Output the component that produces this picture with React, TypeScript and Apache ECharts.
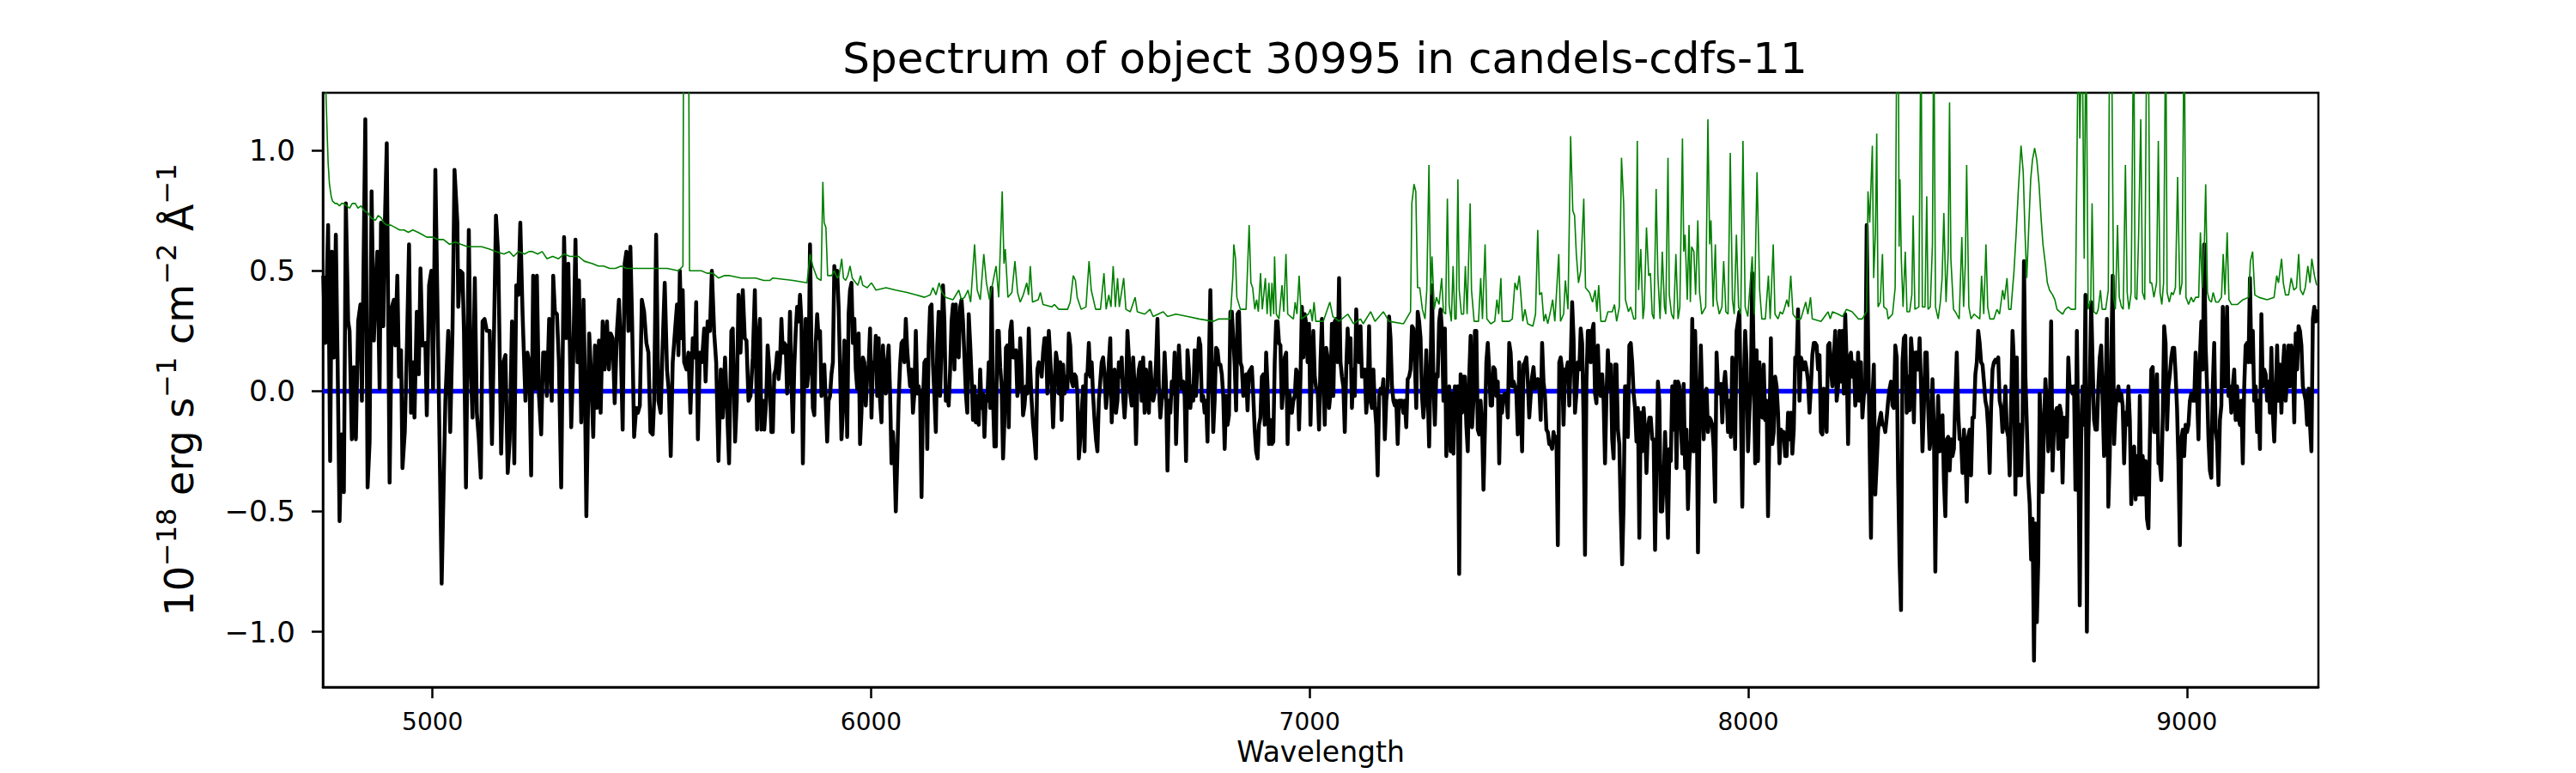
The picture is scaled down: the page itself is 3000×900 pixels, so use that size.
import React, { useEffect, useRef } from 'react';
import * as echarts from 'echarts';

const FONT = "'DejaVu Sans', 'Liberation Sans', sans-serif";
const titleText = 'Spectrum of object 30995 in candels-cdfs-11';
const xName = 'Wavelength';
const yName = '10{sup|\u221218} erg s{sup|\u22121} cm{sup|\u22122} \u00c5{sup|\u22121}';
const xTicks = [5000, 6000, 7000, 8000, 9000];
const yTicks = [-1, -0.5, 0, 0.5, 1];
const xRange = [4750, 9300];
const yRange = [-1.23, 1.24];

// flux, blue end of the spectrum: [wavelength, flux]
const fluxEarly: number[][] = [
  [4750.9,0.48],[4755.5,0.20],[4762.0,0.69],[4766.6,-0.29],[4770.5,0.58],[4775.1,0.14],[4779.6,0.65],[4783.5,0.14],
  [4788.1,-0.54],[4792.7,-0.18],[4797.9,-0.42],[4802.4,0.78],[4807.7,0.29],[4810.9,0.25],[4816.1,-0.20],[4820.7,0.10],
  [4825.3,-0.20],[4830.5,0.29],[4835.7,0.36],[4839.0,-0.04],[4846.8,1.13],[4852.0,-0.40],[4856.6,-0.21],[4861.1,0.83],
  [4866.3,0.21],[4869.6,0.38],[4874.2,0.58],[4879.4,0.01],[4882.6,0.70],[4887.9,0.27],[4890.5,0.63],[4895.7,1.03],
  [4902.2,-0.38],[4907.4,0.35],[4912.0,0.38],[4915.2,0.19],[4919.8,0.48],[4923.7,0.06],[4928.3,0.17],[4931.5,-0.32],
  [4936.8,-0.17],[4941.3,0.16],[4946.5,0.61],[4951.1,-0.09],[4955.7,0.12],[4958.9,-0.11],[4964.1,0.33],[4968.7,0.07],
  [4972.6,0.51],[4977.2,0.19],[4983.7,0.20],[4987.0,-0.10],[4992.2,0.44],[4997.4,0.50],[5001.3,0.01],[5006.5,0.92],
  [5013.0,0.16],[5020.9,-0.80],[5029.3,-0.04],[5035.9,0.25],[5040.4,-0.17],[5045.6,0.25],[5050.2,0.92],[5056.7,0.70],
  [5058.7,0.35],[5063.2,0.50],[5068.5,0.49],[5071.7,0.25],[5076.3,-0.40],[5082.8,0.67],[5086.7,0.12],[5091.3,-0.11],
  [5096.5,0.47],[5101.1,-0.09],[5105.6,-0.20],[5110.2,-0.36],[5114.1,0.29],[5118.7,0.30],[5123.9,0.25],[5130.4,0.25],
  [5135.6,-0.22],[5140.2,0.24],[5144.7,0.73],[5150.0,0.56],[5156.5,-0.26],[5161.7,0.12],[5166.3,0.15],[5171.5,-0.34],
  [5176.0,-0.20],[5181.3,0.29],[5186.5,-0.30],[5191.0,0.44],[5195.6,0.40],[5200.2,0.70],[5205.4,0.32],[5211.9,-0.04],
  [5216.5,0.16],[5220.4,0.12],[5224.9,-0.35],[5229.5,0.48],[5233.4,0.01],[5238.0,0.48],[5242.5,-0.01],[5247.8,-0.18],
  [5252.3,0.16],[5257.5,0.16],[5260.8,-0.02],[5266.0,0.30],
  [5271.9,-0.04],[5275.2,0.48],[5279.1,0.33],[5283.7,0.32],[5288.2,0.12],[5293.4,-0.40],[5300.0,0.64],[5305.2,0.22],
  [5309.7,0.53],[5313.0,0.20],[5316.3,-0.15],[5320.8,0.13],[5326.0,0.63],[5330.6,0.12],[5333.9,0.46],[5339.1,-0.13],
  [5344.3,0.38],[5346.9,0.12],[5350.8,-0.52],[5357.3,0.24],[5361.9,0.06],[5366.5,-0.19],[5370.4,0.19],[5374.9,-0.07],
  [5379.5,0.21],[5383.4,-0.09],[5388.0,0.29],[5392.5,0.09],[5397.8,0.29],[5402.3,0.09],[5406.2,0.24],[5410.8,0.22],
  [5415.4,-0.05],[5420.6,0.25],[5425.1,0.38],[5429.1,0.20],[5433.6,-0.16],[5438.2,0.53],[5442.1,0.58],[5446.7,0.25],
  [5451.2,0.60],[5455.1,0.29],[5459.7,-0.19],[5464.3,-0.07],[5468.2,-0.09],[5472.7,-0.06],[5477.3,0.38],[5482.5,0.33],
  [5487.7,0.20],[5492.3,0.16],[5496.9,-0.17],[5502.1,-0.18],[5505.3,-0.04],[5509.9,0.65],[5515.1,-0.04],[5520.3,-0.09],
  [5524.9,0.20],[5529.5,0.45],[5534.7,0.09],[5539.2,-0.01],[5543.2,-0.27],[5547.7,0.12],[5552.9,0.25],[5557.5,0.36],
  [5560.8,0.15],[5564.0,0.50],[5567.3,0.22],[5570.5,0.42],[5573.8,0.12],[5579.0,0.09],[5583.6,0.16],[5588.1,-0.09],
  [5593.4,0.22],[5597.9,0.14],[5601.2,0.37],[5605.1,-0.20],[5609.7,0.16],[5614.2,0.12],[5619.4,0.26],[5622.7,0.04],
  [5627.3,0.29],[5632.5,0.25],[5637.0,0.50],[5642.3,0.24],[5646.8,0.12],[5652.0,-0.29],[5657.3,0.09],[5661.8,-0.11],
  [5667.0,0.14],[5671.6,-0.07],[5676.2,-0.30],[5681.4,0.25],[5684.6,0.26],[5689.9,-0.21],[5693.8,-0.04],[5697.7,0.40],
  [5702.2,0.16],[5707.5,0.42],[5712.0,0.22],[5715.9,0.21],[5720.5,-0.04],[5725.1,-0.02],[5730.3,0.14],[5735.0,0.42],
  [5740.1,-0.16],[5743.3,0.22],[5746.6,0.30],[5749.8,-0.16],[5753.1,-0.04],[5756.4,-0.16],[5760.9,-0.04],[5764.2,0.19],
  [5768.1,0.09],[5772.7,-0.17]
];

// flux on the regular pixel grid (red part), one array per stretch
const segmentStarts = [5776.0, 6284.6, 6793.2, 7301.8, 7810.4, 8319.0, 8827.7];
const segmentStep = 3.26;

const fluxSeg1 = [
  -0.17,0.07,0.09,0.16,0.05,0.12,0.30,0.16,0.20,0.19,
  -0.01,0.09,0.33,0.05,-0.17,0.10,0.25,0.35,0.29,0.40,
  0.29,-0.30,0.06,0.30,0.02,0.09,0.61,0.19,-0.07,-0.10,
  0.20,0.32,0.22,0.25,-0.02,-0.01,0.11,-0.04,-0.21,-0.04,
  -0.02,0.07,0.12,0.52,0.45,0.50,0.35,0.10,-0.20,-0.09,
  0.21,0.20,-0.19,0.32,0.42,0.45,0.20,0.30,0.09,0.01,
  0.24,-0.22,-0.09,0.14,0.12,-0.06,0.06,0.11,0.26,-0.11,
  0.12,0.09,0.23,-0.02,0.22,-0.04,-0.13,0.19,0.06,-0.01,
  0.12,0.19,-0.01,-0.30,-0.17,-0.27,-0.50,-0.29,-0.04,0.11,
  0.20,0.21,0.12,0.30,0.17,0.09,0.02,0.09,-0.09,-0.01,
  0.25,-0.01,0.02,-0.02,-0.44,-0.04,0.12,0.13,-0.24,0.19,
  0.35,0.36,0.11,-0.02,-0.17,0.19,0.33,-0.02,0.20,0.44,
  0.29,-0.04,-0.01,-0.06,0.09,0.29,0.36,0.09,0.36,0.15,
  0.14,0.35,0.38,0.29,0.14,-0.01,-0.09,0.32,0.20,0.06,
  -0.12,0.02,-0.13,-0.02,-0.14,0.09,-0.07,-0.01,-0.19,-0.02,
  -0.04,0.12,-0.07,0.43,-0.04,-0.23
];
const fluxSeg2 = [
  -0.23,0.25,0.25,0.10,0.02,-0.28,-0.12,0.18,0.19,-0.15,
  0.25,0.29,0.14,0.14,0.17,-0.02,0.02,0.22,0.09,-0.10,
  -0.06,0.02,-0.01,0.26,0.09,-0.04,-0.14,-0.20,-0.28,0.09,
  0.12,0.11,0.06,0.16,0.22,0.22,-0.01,0.25,0.14,0.02,
  -0.15,0.02,0.16,0.12,-0.01,0.12,-0.12,0.11,-0.01,0.06,
  0.01,0.24,0.19,0.04,0.02,0.07,0.06,-0.01,-0.28,-0.20,
  -0.09,0.02,-0.25,0.07,0.07,0.20,0.06,0.12,-0.02,-0.12,
  -0.20,-0.25,-0.04,0.04,0.12,0.14,0.07,-0.07,-0.01,0.12,
  0.22,-0.13,0.02,0.09,-0.09,-0.04,0.12,0.06,0.14,-0.02,
  -0.11,-0.01,0.25,0.14,-0.01,-0.06,0.14,0.02,-0.22,0.02,
  0.09,0.12,-0.04,0.14,-0.09,0.09,-0.04,-0.09,0.12,0.02,
  -0.04,-0.01,0.12,0.30,0.02,-0.11,-0.04,-0.01,0.16,0.02,
  -0.33,-0.04,-0.09,0.04,-0.01,0.16,-0.22,-0.01,0.19,0.07,
  0.01,0.04,-0.02,-0.29,0.17,0.09,-0.07,0.02,-0.04,0.17,
  -0.02,0.12,0.22,0.19,-0.04,-0.02,-0.09,-0.04,-0.21,0.12,
  0.42,0.12,-0.17,-0.04,0.18,0.17
];
const fluxSeg3 = [
  0.11,0.11,0.07,-0.02,-0.24,-0.02,-0.14,-0.10,0.33,0.33,
  0.22,0.11,-0.08,0.32,0.33,0.12,0.10,-0.02,-0.01,0.07,
  -0.08,0.08,0.09,0.10,-0.02,-0.16,-0.25,-0.28,-0.14,-0.11,
  0.06,0.07,-0.14,0.16,0.02,-0.22,-0.12,-0.22,-0.21,0.12,
  0.29,0.29,0.20,0.19,-0.07,0.01,0.14,0.16,-0.22,0.00,
  -0.04,-0.09,-0.04,-0.02,0.09,0.07,-0.16,0.05,0.35,0.14,
  0.32,0.28,0.12,0.28,-0.14,0.09,0.25,0.06,0.01,0.01,
  -0.16,0.12,0.30,0.04,-0.14,0.18,0.14,-0.07,-0.01,0.28,
  -0.02,0.29,0.30,0.12,0.47,0.12,0.06,0.02,-0.17,0.09,
  0.26,0.12,0.22,-0.07,0.09,-0.02,0.34,0.19,0.12,0.27,
  0.06,0.09,0.09,-0.09,-0.01,0.27,-0.04,-0.07,0.09,-0.06,
  -0.14,-0.35,-0.02,0.01,-0.01,0.05,-0.20,-0.04,0.02,0.31,
  0.22,0.02,-0.04,-0.06,-0.04,-0.22,-0.04,-0.04,-0.04,-0.09,
  -0.04,-0.15,0.05,0.06,0.09,0.27,0.26,0.12,-0.07,0.33,
  0.29,0.22,-0.02,-0.11,-0.02,0.17,-0.01,-0.23,0.09,0.44,
  0.04,-0.14,0.07,0.06,0.29,0.34
];
const fluxSeg4 = [
  0.25,-0.04,0.26,-0.27,-0.02,0.02,-0.25,-0.01,-0.26,0.02,
  -0.09,0.02,-0.76,0.07,-0.09,0.06,0.06,-0.14,-0.25,0.06,
  0.23,-0.15,-0.04,0.25,0.25,-0.16,-0.18,-0.04,-0.14,-0.41,
  -0.16,0.12,0.20,0.09,-0.06,-0.06,0.10,0.09,-0.02,0.04,
  -0.30,-0.02,-0.09,-0.02,-0.01,-0.02,-0.11,0.20,0.16,0.02,
  0.04,0.02,-0.01,-0.18,0.12,-0.04,-0.25,0.11,0.12,0.14,
  0.04,-0.11,-0.02,0.06,0.10,0.01,0.02,0.05,0.02,-0.12,
  0.20,0.04,-0.02,-0.16,-0.17,-0.22,-0.22,-0.24,-0.17,-0.21,
  -0.19,-0.64,0.12,0.14,0.09,-0.14,0.09,0.09,0.12,-0.06,
  0.12,0.37,0.22,-0.09,-0.01,0.12,0.09,0.26,0.20,-0.12,
  -0.68,0.04,0.25,0.25,0.12,0.25,0.28,-0.01,-0.05,0.19,
  0.01,-0.02,0.07,-0.04,-0.30,-0.02,0.17,0.01,0.11,-0.20,
  -0.28,0.11,0.11,-0.16,-0.22,-0.50,-0.72,-0.47,0.02,0.02,
  -0.19,0.19,0.20,0.12,-0.01,-0.07,-0.21,-0.07,-0.61,-0.09,
  -0.25,-0.07,-0.16,-0.34,-0.16,-0.11,-0.11,-0.20,-0.20,-0.66,
  -0.30,0.04,-0.04,-0.50,-0.50,-0.37
];
const fluxSeg5 = [
  -0.17,-0.37,-0.61,-0.24,-0.29,0.02,-0.16,0.04,-0.32,0.04,
  0.02,-0.14,-0.26,0.03,-0.32,-0.16,-0.49,-0.29,-0.20,0.30,
  -0.25,0.25,0.02,-0.67,-0.17,0.19,-0.04,-0.20,-0.02,0.01,
  -0.17,-0.11,-0.12,-0.14,-0.24,-0.46,0.16,0.02,-0.01,0.03,
  -0.13,0.02,0.08,-0.01,-0.17,-0.04,-0.19,0.14,0.02,-0.24,
  0.25,0.29,0.33,-0.07,-0.48,0.02,0.25,0.12,-0.25,-0.09,
  0.04,0.49,0.12,-0.30,0.17,-0.29,0.12,-0.01,-0.11,0.11,
  -0.12,-0.04,-0.52,-0.16,0.22,-0.22,-0.17,0.06,0.02,-0.09,
  -0.30,-0.16,-0.17,-0.17,-0.27,-0.27,-0.09,-0.20,-0.09,-0.26,
  -0.16,0.14,0.12,0.34,-0.04,0.14,0.12,0.09,0.12,0.09,
  0.04,-0.09,0.02,0.15,0.20,0.20,0.19,0.09,0.15,-0.17,
  -0.18,0.01,-0.02,-0.17,0.19,0.20,0.09,0.02,0.14,0.25,
  -0.04,0.02,0.25,0.04,0.25,-0.01,0.32,0.12,-0.22,0.14,
  0.16,0.06,0.12,-0.06,-0.02,0.16,-0.04,0.12,-0.11,-0.02,
  0.01,0.69,0.22,-0.20,-0.61,-0.04,0.11,-0.43,-0.30,-0.16,
  -0.12,-0.09,-0.14,-0.14,-0.17,-0.11
];
const fluxSeg6 = [
  -0.04,0.01,0.04,-0.06,-0.07,0.19,0.14,-0.37,-0.71,-0.91,
  0.12,0.22,0.23,-0.09,0.06,-0.08,0.22,0.14,-0.13,0.16,
  0.16,0.09,0.22,0.02,-0.25,-0.07,0.16,0.16,-0.07,-0.24,
  -0.19,0.05,-0.16,-0.75,-0.24,-0.02,-0.25,-0.19,-0.10,-0.37,
  -0.52,-0.20,-0.19,-0.33,-0.20,-0.27,-0.24,-0.02,0.16,-0.09,
  -0.20,-0.20,-0.34,-0.16,-0.27,-0.46,-0.19,-0.16,-0.35,-0.11,
  -0.11,0.07,0.12,0.25,0.20,0.12,0.11,0.04,-0.04,-0.07,
  -0.16,-0.34,-0.07,0.09,0.12,0.13,0.12,0.14,-0.04,-0.07,
  -0.17,-0.12,0.02,-0.16,-0.19,-0.35,-0.06,0.25,0.12,-0.43,
  0.14,-0.35,-0.14,-0.35,-0.14,0.54,0.06,-0.14,-0.37,-0.47,
  -0.70,-0.53,-1.12,-0.55,-0.96,-0.70,-0.01,-0.17,-0.42,-0.14,
  0.05,-0.06,-0.25,-0.10,0.29,-0.33,-0.14,-0.09,-0.07,-0.24,
  -0.06,-0.09,-0.38,-0.11,-0.14,-0.19,0.14,0.01,0.02,-0.01,
  0.02,-0.41,0.25,-0.20,-0.89,-0.20,0.02,-0.14,0.40,-1.00,
  -0.20,0.02,0.37,0.12,-0.12,-0.16,-0.16,0.02,0.14,0.19,
  -0.04,-0.27,-0.03,0.30,-0.48,-0.27
];
const fluxSeg7 = [
  0.14,0.48,-0.22,-0.07,-0.02,0.02,-0.04,-0.01,-0.06,-0.30,
  -0.09,-0.14,0.02,-0.12,-0.47,-0.25,-0.23,-0.45,-0.27,-0.43,
  -0.02,-0.43,-0.27,-0.43,-0.29,-0.53,-0.57,-0.20,0.09,0.10,
  -0.17,-0.17,0.07,-0.30,-0.30,-0.37,-0.11,0.27,0.20,-0.16,
  0.02,0.07,0.14,0.18,0.18,0.07,-0.07,-0.30,-0.64,-0.20,
  -0.16,-0.27,-0.14,-0.17,-0.14,-0.04,-0.01,-0.04,-0.04,0.16,
  -0.01,-0.20,0.14,0.29,0.09,0.61,0.19,0.02,-0.20,-0.33,
  -0.36,0.02,0.20,-0.16,-0.21,-0.39,-0.12,-0.06,0.35,0.02,
  0.02,0.35,-0.02,0.02,-0.09,0.02,0.09,-0.12,0.02,-0.11,
  -0.14,-0.04,-0.30,0.02,0.19,0.20,0.12,0.47,0.12,0.25,
  -0.04,0.02,-0.17,-0.04,-0.24,0.32,0.02,0.09,0.07,-0.04,
  0.04,-0.09,0.18,-0.09,-0.21,-0.02,0.19,-0.04,0.11,-0.09,
  0.09,0.19,-0.04,0.04,0.19,0.02,0.19,0.12,-0.13,0.24,
  0.09,0.27,0.25,0.19,0.02,-0.01,-0.04,-0.14,0.01,-0.14,
  -0.25,0.30,0.35,0.29,0.34
];

// noise (sigma) spectrum: [wavelength, value]
const noise: number[][] = [
  [4750.9,2.2],[4754,1.6],[4757,1.24],[4760,1.06],[4762,0.95],[4765,0.86],[4769,0.81],[4772,0.79],[4778,0.78],[4782,0.78],
  [4788,0.77],[4793,0.78],[4798,0.78],[4804,0.77],[4811,0.76],[4817,0.78],[4824,0.78],[4830,0.76],[4837,0.77],[4844,0.75],
  [4853,0.74],[4860,0.72],[4870,0.71],[4876,0.73],[4883,0.72],[4889,0.70],[4896,0.69],[4905,0.69],[4915,0.68],[4925,0.67],
  [4935,0.67],[4945,0.66],[4955,0.67],[4967,0.66],[4977,0.65],[4987,0.64],[5000,0.64],[5013,0.63],[5025,0.63],[5039,0.61],
  [5052,0.62],[5065,0.61],[5080,0.60],[5098,0.60],[5112,0.60],[5130,0.59],[5145,0.58],[5163,0.57],[5175,0.58],[5185,0.56],
  [5196,0.58],[5210,0.57],[5220,0.58],[5228,0.58],[5240,0.57],[5250,0.58],[5261,0.55],
  [5274,0.56],[5287,0.55],[5300,0.57],[5313,0.56],[5333,0.56],[5346,0.54],[5365,0.53],[5378,0.52],[5390,0.52],[5404,0.51],
  [5417,0.51],[5430,0.52],[5443,0.51],[5463,0.51],[5483,0.51],[5509,0.51],[5535,0.51],[5561,0.50],[5571,0.52],[5574,2.5],
  [5578,3.0],[5582,2.5],[5586,0.50],[5600,0.50],[5613,0.50],[5626,0.49],[5639,0.49],[5652,0.47],[5665,0.48],[5678,0.48],
  [5704,0.47],[5720,0.47],[5737,0.47],[5755,0.46],[5769,0.46],
  [5776,0.47],[5822,0.46],[5854,0.45],[5861,0.57],[5867,0.52],[5877,0.47],[5886,0.46],[5890,0.87],[5893,0.70],[5897,0.68],
  [5901,0.48],[5910,0.48],[5916,0.50],[5923,0.47],[5927,0.48],[5933,0.55],[5937,0.47],[5942,0.46],[5947,0.48],[5952,0.52],
  [5957,0.47],[5965,0.45],[5970,0.44],[5976,0.48],[5981,0.44],[5991,0.43],[6001,0.45],[6011,0.42],[6034,0.43],[6056,0.42],
  [6082,0.41],[6102,0.40],[6122,0.39],[6135,0.40],[6141,0.43],[6148,0.40],[6155,0.45],[6162,0.41],[6170,0.39],[6187,0.38],
  [6200,0.42],[6206,0.38],[6213,0.39],[6221,0.42],[6227,0.37],[6236,0.61],[6242,0.42],[6249,0.38],[6257,0.57],[6263,0.45],
  [6270,0.38],
  [6285,0.52],[6291,0.39],[6299,0.83],[6303,0.53],[6306,0.59],[6312,0.39],[6321,0.41],[6328,0.54],[6334,0.41],[6340,0.37],
  [6347,0.40],[6355,0.45],[6359,0.40],[6363,0.52],[6368,0.37],[6381,0.38],[6386,0.41],[6392,0.36],[6412,0.35],[6418,0.36],
  [6428,0.34],[6448,0.34],[6454,0.37],[6461,0.48],[6466,0.46],[6470,0.39],[6479,0.34],[6490,0.35],[6497,0.54],[6502,0.42],
  [6512,0.34],[6523,0.34],[6531,0.49],[6536,0.34],[6542,0.40],[6547,0.35],[6552,0.52],[6557,0.35],[6562,0.47],[6566,0.35],
  [6576,0.47],[6581,0.34],[6591,0.33],[6602,0.39],[6607,0.33],[6624,0.32],[6636,0.34],[6643,0.31],[6666,0.33],[6676,0.31],
  [6695,0.32],[6722,0.31],[6748,0.30],[6780,0.29],
  [6793,0.30],[6819,0.30],[6825,0.48],[6827,0.61],[6831,0.55],[6834,0.39],[6842,0.34],[6855,0.34],[6862,0.69],[6866,0.45],
  [6870,0.43],[6875,0.34],[6879,0.38],[6883,0.33],[6888,0.49],[6892,0.34],[6899,0.47],[6903,0.32],[6907,0.45],[6911,0.31],
  [6914,0.45],[6918,0.32],[6920,0.56],[6924,0.32],[6930,0.30],[6937,0.44],[6941,0.33],[6946,0.57],[6950,0.32],[6963,0.30],
  [6967,0.37],[6971,0.32],[6976,0.48],[6981,0.30],[6997,0.32],[7002,0.34],[7006,0.29],[7010,0.37],[7014,0.29],[7031,0.29],
  [7046,0.37],[7053,0.31],[7067,0.29],[7087,0.32],[7100,0.28],[7116,0.30],[7122,0.28],[7139,0.33],[7149,0.29],[7168,0.33],
  [7181,0.29],[7214,0.28],[7230,0.33],[7233,0.78],[7238,0.86],[7242,0.83],[7246,0.43],[7251,0.43],[7257,0.34],[7263,0.30],
  [7267,0.42],[7272,0.94],[7276,0.40],[7279,0.56],[7284,0.34],[7289,0.39],[7295,0.36],
  [7301,0.47],[7305,0.33],[7310,0.32],[7314,0.80],[7318,0.36],[7323,0.29],[7327,0.52],[7331,0.30],[7334,0.30],[7338,0.88],
  [7341,0.42],[7346,0.32],[7351,0.32],[7355,0.52],[7359,0.32],[7366,0.78],[7369,0.42],[7375,0.29],[7385,0.29],[7390,0.47],
  [7394,0.30],[7400,0.61],[7404,0.30],[7413,0.28],[7422,0.29],[7427,0.38],[7431,0.32],[7436,0.47],[7439,0.29],[7455,0.29],
  [7462,0.30],[7468,0.45],[7473,0.42],[7478,0.48],[7482,0.39],[7486,0.29],[7491,0.34],[7497,0.28],[7509,0.27],[7515,0.32],
  [7520,0.67],[7524,0.40],[7529,0.41],[7534,0.29],[7538,0.32],[7543,0.28],[7550,0.34],[7554,0.38],[7559,0.29],[7568,0.57],
  [7572,0.29],[7579,0.32],[7583,0.46],[7589,0.34],[7595,1.06],[7600,0.75],[7604,0.73],[7608,0.57],[7613,0.45],[7618,0.50],
  [7625,0.80],[7629,0.43],[7638,0.41],[7645,0.37],[7651,0.42],[7655,0.33],[7659,0.44],[7664,0.29],[7674,0.29],[7680,0.33],
  [7690,0.33],[7695,0.36],[7700,0.29],[7706,0.35],[7711,0.97],[7716,0.78],[7720,0.38],[7727,0.33],[7732,0.35],[7739,0.30],
  [7743,0.30],[7747,1.04],[7750,0.42],[7755,0.59],[7760,0.30],[7763,0.35],[7768,0.68],[7773,0.48],[7777,0.49],[7781,0.32],
  [7785,0.30],[7790,0.84],[7794,0.48],[7799,0.30],[7804,0.58],[7809,0.35],
  [7812,0.32],[7817,0.97],[7820,0.40],[7825,0.32],[7830,0.30],[7835,0.57],[7840,0.30],[7844,0.35],[7850,1.05],[7853,0.58],
  [7856,0.65],[7861,0.38],[7865,0.69],[7868,0.37],[7871,0.60],[7876,0.58],[7880,0.40],[7885,0.71],[7889,0.41],[7894,0.32],
  [7903,0.35],[7908,1.13],[7912,0.61],[7915,0.71],[7920,0.35],[7925,0.61],[7928,0.38],[7934,0.32],[7940,0.35],[7944,0.54],
  [7949,0.33],[7954,0.32],[7959,0.99],[7964,0.38],[7968,0.32],[7973,0.65],[7978,0.35],[7983,0.32],[7988,1.04],[7993,0.35],
  [7999,0.31],[8009,0.56],[8014,0.32],[8020,0.91],[8026,0.42],[8031,0.30],[8039,0.30],[8046,0.48],[8050,0.30],[8057,0.61],
  [8061,0.32],[8068,0.30],[8073,0.33],[8078,0.32],[8082,0.34],[8088,0.38],[8092,0.35],[8097,0.48],[8102,0.32],[8110,0.30],
  [8120,0.30],[8131,0.37],[8136,0.32],[8142,0.39],[8146,0.30],[8166,0.29],[8182,0.33],[8187,0.30],[8192,0.33],[8205,0.32],
  [8215,0.31],[8224,0.34],[8237,0.33],[8251,0.30],[8260,0.30],[8270,0.33],[8273,0.83],[8277,0.70],[8280,0.86],[8283,1.02],
  [8286,0.47],[8290,0.66],[8293,1.07],[8296,0.35],[8301,0.37],[8306,0.57],[8309,0.35],[8316,0.34],
  [8319,0.30],[8329,0.32],[8335,0.43],[8339,1.6],[8342,1.6],[8344,0.60],[8346,0.88],[8349,0.55],[8353,0.35],[8358,0.58],
  [8362,0.33],[8368,0.33],[8373,0.40],[8376,0.73],[8380,0.34],[8389,0.35],[8394,1.6],[8397,0.35],[8403,0.35],[8407,0.81],
  [8410,0.34],[8415,0.35],[8420,0.61],[8423,1.6],[8427,0.35],[8433,0.30],[8438,0.37],[8442,0.47],[8446,0.74],[8451,0.37],
  [8456,0.58],[8459,1.20],[8462,0.55],[8468,0.34],[8472,0.33],[8481,0.30],[8487,0.64],[8491,0.35],[8495,0.53],[8498,0.94],
  [8503,0.35],[8508,0.30],[8515,0.32],[8528,0.30],[8532,0.48],[8537,0.32],[8542,0.61],[8546,0.35],[8551,0.30],[8560,0.30],
  [8567,0.34],[8573,0.32],[8580,0.42],[8584,0.38],[8590,0.47],[8594,0.34],[8599,0.34],[8606,0.50],[8611,0.66],[8616,0.84],
  [8622,1.02],[8627,0.91],[8631,0.66],[8635,0.47],[8640,0.70],[8644,0.88],[8648,0.96],[8653,1.01],[8658,0.96],[8663,0.86],
  [8668,0.71],[8672,0.61],[8678,0.52],[8682,0.45],[8687,0.42],[8694,0.40],[8699,0.38],[8704,0.34],[8710,0.33],[8717,0.32],
  [8723,0.34],[8730,0.35],[8736,0.34],[8746,0.34],[8753,1.6],[8756,1.05],[8761,1.6],[8766,0.55],[8770,1.6],[8775,0.34],
  [8781,0.38],[8784,0.78],[8788,0.33],[8794,0.32],[8798,0.34],[8803,0.42],[8807,0.34],[8815,0.34],[8821,0.42],[8824,1.6],
  [8828,1.6],[8833,0.39],[8837,0.34],[8842,0.69],[8846,0.39],[8851,0.35],[8855,0.34],[8860,0.94],[8864,0.41],[8868,0.34],
  [8873,0.41],[8879,1.6],[8882,0.39],[8886,0.38],[8890,0.64],[8895,1.13],[8899,0.41],[8904,0.38],[8909,1.6],[8912,1.6],
  [8916,0.45],[8920,0.45],[8925,0.39],[8931,0.45],[8935,1.04],[8939,0.41],[8943,0.36],[8947,0.45],[8952,1.6],[8955,0.41],
  [8960,0.37],[8965,0.41],[8969,0.40],[8974,0.43],[8979,0.89],[8984,0.40],[8989,0.45],[8994,1.6],[8998,0.39],[9004,0.36],
  [9010,0.39],[9015,0.37],[9020,0.39],[9027,0.39],[9031,0.66],[9035,0.43],[9040,0.61],[9043,0.86],[9047,0.41],[9051,0.38],
  [9056,0.37],[9060,0.41],[9066,0.37],[9072,0.37],[9079,0.39],[9083,0.57],[9087,0.40],[9092,0.66],[9096,0.38],[9102,0.36],
  [9115,0.36],[9128,0.38],[9141,0.39],[9145,0.54],[9150,0.58],[9155,0.40],[9164,0.39],[9183,0.38],[9199,0.39],[9205,0.48],
  [9209,0.45],[9216,0.55],[9220,0.45],[9225,0.40],[9232,0.40],[9238,0.47],[9244,0.42],[9250,0.43],[9255,0.57],[9259,0.42],
  [9265,0.40],[9270,0.43],[9276,0.52],[9281,0.45],[9285,0.55],[9291,0.48],[9296,0.44]
];

const zeroLevel: number[][] = [[4750, 0], [9300, 0]];

export default function App() {
  const ref = useRef<HTMLDivElement>(null);

  useEffect(() => {
    document.body.style.margin = '0';
    const chart = echarts.init(ref.current as HTMLDivElement, null, { renderer: 'svg' });
    const segments = [fluxSeg1, fluxSeg2, fluxSeg3, fluxSeg4, fluxSeg5, fluxSeg6, fluxSeg7];
    const fluxPoints: number[][] = fluxEarly.slice();
    segments.forEach((seg, k) => {
      seg.forEach((v, i) => {
        fluxPoints.push([Math.round((segmentStarts[k] + i * segmentStep) * 100) / 100, v]);
      });
    });

    const minus = (v: number, digits: number) => v.toFixed(digits).replace('-', '\u2212');

    chart.setOption({
      animation: false,
      backgroundColor: '#ffffff',
      title: {
        text: titleText,
        left: 1538,
        top: 38,
        textAlign: 'center',
        textStyle: { fontFamily: FONT, fontSize: 50, fontWeight: 'normal', color: '#000000' },
      },
      grid: {
        left: 376,
        right: 300,
        top: 108,
        bottom: 100,
        show: true,
        borderColor: '#000000',
        borderWidth: 2.5,
        backgroundColor: 'transparent',
      },
      xAxis: {
        type: 'value',
        min: xRange[0],
        max: xRange[1],
        name: xName,
        nameLocation: 'middle',
        nameGap: 58,
        nameTextStyle: { fontFamily: FONT, fontSize: 33, color: '#000000' },
        axisLine: { show: true, onZero: false, lineStyle: { color: '#000000', width: 2.5 } },
        axisTick: { show: true, length: 13, customValues: xTicks, lineStyle: { color: '#000000', width: 2.5 } },
        axisLabel: {
          customValues: xTicks,
          fontFamily: FONT,
          fontSize: 28,
          color: '#000000',
          margin: 26,
          formatter: (v: number) => String(v),
        },
        splitLine: { show: false },
      },
      yAxis: {
        type: 'value',
        min: yRange[0],
        max: yRange[1],
        name: yName,
        nameLocation: 'middle',
        nameRotate: 90,
        nameGap: 136,
        nameTextStyle: {
          fontFamily: FONT,
          fontSize: 46,
          color: '#000000',
          rich: {
            sup: { fontFamily: FONT, fontSize: 32, color: '#000000', padding: [0, 0, 30, 0] },
          },
        },
        axisLine: { show: true, onZero: false, lineStyle: { color: '#000000', width: 2.5 } },
        axisTick: { show: true, length: 13, customValues: yTicks, lineStyle: { color: '#000000', width: 2.5 } },
        axisLabel: {
          customValues: yTicks,
          fontFamily: FONT,
          fontSize: 34,
          color: '#000000',
          margin: 32,
          formatter: (v: number) => minus(v, 1),
        },
        splitLine: { show: false },
      },
      series: [
        {
          name: 'zero',
          type: 'line',
          data: zeroLevel,
          showSymbol: false,
          symbol: 'none',
          clip: true,
          z: 2,
          lineStyle: { color: '#0000ff', width: 5.5 },
        },
        {
          name: 'flux',
          type: 'line',
          data: fluxPoints,
          showSymbol: false,
          symbol: 'none',
          clip: true,
          z: 3,
          lineStyle: { color: '#000000', width: 4.5, join: 'round' },
        },
        {
          name: 'noise',
          type: 'line',
          data: noise,
          showSymbol: false,
          symbol: 'none',
          clip: true,
          z: 4,
          lineStyle: { color: '#008000', width: 1.6 },
        },
      ],
    });

    return () => {
      chart.dispose();
    };
  }, []);

  return (
    <div
      ref={ref}
      style={{ position: 'fixed', left: 0, top: 0, width: 3000, height: 900, background: '#ffffff' }}
    />
  );
}
